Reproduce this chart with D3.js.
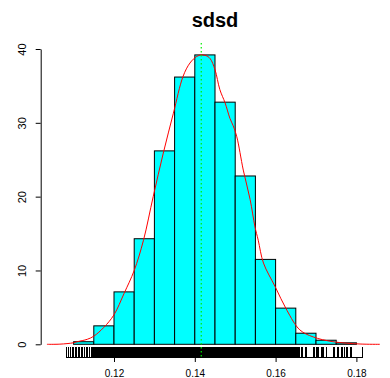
<!DOCTYPE html>
<html>
<head>
<meta charset="utf-8">
<script src="https://cdn.jsdelivr.net/npm/d3@7"></script>
<style>
  html, body { margin: 0; padding: 0; background: #fff; }
  svg { display: block; font-family: "Liberation Sans", Arial, Helvetica, sans-serif; }
</style>
</head>
<body>
<svg id="chart" width="390" height="378"></svg>
<script>
// Histogram bin edges and densities
const breaks = [0.110, 0.115, 0.120, 0.125, 0.130, 0.135, 0.140, 0.145, 0.150, 0.155, 0.160, 0.165, 0.170, 0.175, 0.180];
const density = [0.35, 2.5, 7.1, 14.3, 26.2, 36.2, 39.2, 32.8, 22.8, 11.5, 4.9, 1.5, 0.55, 0.2];

// Kernel density estimate (x, density)
const kdeX = [0.1034, 0.1066, 0.1099, 0.1109, 0.1134, 0.1150, 0.1175, 0.1200, 0.1225, 0.1250, 0.1273, 0.1297,
              0.1322, 0.1347, 0.1371, 0.1388, 0.1405, 0.1417, 0.1428, 0.1438, 0.1450, 0.1462, 0.1475, 0.1487,
              0.1495, 0.1504, 0.1520, 0.1537, 0.1549, 0.1557, 0.1570, 0.1599, 0.1628, 0.1660, 0.1693, 0.1742,
              0.1809, 0.1858];
const kdeY = [0.0, 0.02, 0.2, 0.35, 0.68, 1.1, 2.3, 4.0, 6.9, 10.0, 14.1, 20.0,
              25.9, 31.3, 36.3, 38.1, 39.0, 39.2, 39.1, 38.7, 37.2, 34.5, 32.7, 30.6,
              29.6, 28.1, 23.6, 19.6, 15.9, 14.1, 11.0, 7.8, 4.6, 1.95, 1.0, 0.35,
              0.04, 0.0];

// Rug: sparse observations in the tails, solid band where ticks overlap
const rugLeft = [0.10819, 0.10879, 0.10918, 0.10968, 0.11002, 0.11035, 0.11077, 0.11109, 0.11151,
                 0.11191, 0.11225, 0.11265, 0.11314, 0.11356, 0.11399];
const rugRight = [0.16629, 0.16678, 0.16728, 0.16777, 0.16926, 0.16963, 0.17000, 0.17037, 0.17074,
                  0.17124, 0.17161, 0.17198, 0.17248, 0.17421, 0.17458, 0.17520, 0.17569, 0.17619,
                  0.17668, 0.17705, 0.17755, 0.17792, 0.17842, 0.17891, 0.18163];
const rugBand = [0.1142, 0.1660];

const meanValue = 0.1416;
const xTicks = [0.12, 0.14, 0.16, 0.18];
const yTicks = [0, 10, 20, 30, 40];
const title = "sdsd";

const svg = d3.select("#chart");

const x = d3.scaleLinear().domain([0.12, 0.18]).range([114, 356.4]);
const y = d3.scaleLinear().domain([0, 40]).range([344.3, 49]);
const rugBase = 357;
const rugTop = 346.5;

// Bars
const bins = density.map((d, i) => ({ x0: breaks[i], x1: breaks[i + 1], d }));
svg.append("g").selectAll("rect").data(bins).join("rect")
  .attr("x", b => x(b.x0))
  .attr("y", b => y(b.d))
  .attr("width", b => x(b.x1) - x(b.x0))
  .attr("height", b => y(0) - y(b.d))
  .attr("fill", "#00ffff")
  .attr("stroke", "#000")
  .attr("stroke-width", 1);

// Rug
const rug = svg.append("g").attr("shape-rendering", "crispEdges");
rug.append("rect")
  .attr("x", x(rugBand[0]))
  .attr("y", rugTop)
  .attr("width", x(rugBand[1]) - x(rugBand[0]))
  .attr("height", rugBase - rugTop)
  .attr("fill", "#000");
rug.selectAll("line.tick").data(rugLeft.concat(rugRight)).join("line")
  .attr("class", "tick")
  .attr("x1", d => x(d)).attr("x2", d => x(d))
  .attr("y1", rugTop).attr("y2", rugBase)
  .attr("stroke", "#000").attr("stroke-width", 1);
rug.append("line")
  .attr("x1", x(rugLeft[0])).attr("x2", x(rugRight[rugRight.length - 1]))
  .attr("y1", rugBase).attr("y2", rugBase)
  .attr("stroke", "#000").attr("stroke-width", 1);

// Density curve
const line = d3.line().x((d, i) => x(kdeX[i])).y(d => y(d)).curve(d3.curveCatmullRom.alpha(0.5));
svg.append("path")
  .datum(kdeY)
  .attr("d", line)
  .attr("fill", "none")
  .attr("stroke", "#ff0000")
  .attr("stroke-width", 1);

// Mean marker
svg.append("line")
  .attr("x1", x(meanValue)).attr("x2", x(meanValue))
  .attr("y1", 43).attr("y2", rugBase)
  .attr("stroke", "#00ee00")
  .attr("stroke-width", 1.2)
  .attr("stroke-dasharray", "1.5,2.5");

// Y axis
const yAxis = svg.append("g")
  .attr("transform", "translate(40.7,0)")
  .call(d3.axisLeft(y).tickValues(yTicks).tickFormat(d3.format("d")).tickSize(5).tickSizeOuter(0));
yAxis.select(".domain").attr("stroke", "#000");
yAxis.selectAll(".tick line").attr("stroke", "#000");
yAxis.selectAll(".tick text")
  .attr("transform", "rotate(-90)")
  .attr("x", 0).attr("y", -14.5).attr("dy", 0)
  .attr("text-anchor", "middle")
  .attr("fill", "#000")
  .style("font-size", "11px")
  .style("font-family", "Liberation Sans, Arial, sans-serif");

// X axis
const xAxis = svg.append("g")
  .attr("transform", `translate(0,${rugBase})`)
  .call(d3.axisBottom(x).tickValues(xTicks).tickFormat(d3.format(".2f")).tickSize(5).tickSizeOuter(0));
xAxis.select(".domain").remove();
xAxis.selectAll(".tick line").attr("stroke", "#000");
xAxis.selectAll(".tick text")
  .attr("y", 20).attr("dy", 0)
  .attr("fill", "#000")
  .style("font-size", "10px")
  .style("font-family", "Liberation Sans, Arial, sans-serif");

// Title
svg.append("text")
  .attr("x", x(0.145))
  .attr("y", 27)
  .attr("text-anchor", "middle")
  .style("font-size", "20px")
  .style("font-weight", "bold")
  .text(title);
</script>
</body>
</html>
